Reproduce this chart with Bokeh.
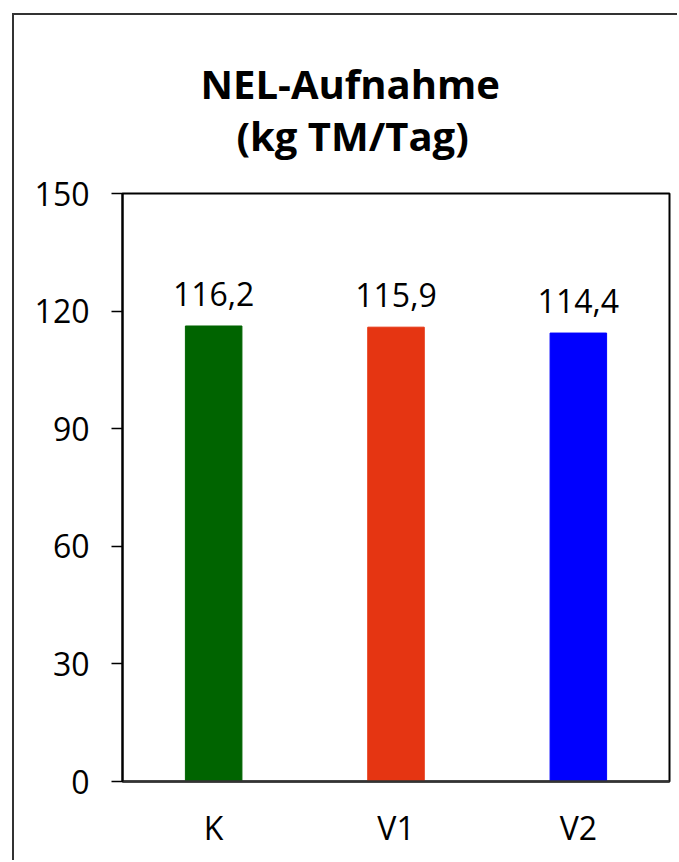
from bokeh.plotting import figure
from bokeh.models import ColumnDataSource, LabelSet, Range1d, FixedTicker, Title
from bokeh.core.properties import value
from bokeh.embed import file_html
from bokeh.resources import INLINE

categories = ["K", "V1", "V2"]
values = [116.2, 115.9, 114.4]
value_labels = ["116,2", "115,9", "114,4"]
colors = ["#006400", "#E53512", "#0000FF"]
y_ticks = [0, 30, 60, 90, 120, 150]
title_lines = ["NEL-Aufnahme", "(kg TM/Tag)"]

FONT = "Open Sans"

source = ColumnDataSource(dict(cat=categories, val=values, lab=value_labels, col=colors))

p = figure(
    x_range=categories, y_range=Range1d(0, 150),
    width=665, height=847,
    output_backend="svg", toolbar_location=None,
    min_border_left=108, min_border_right=10, min_border_top=178, min_border_bottom=81,
    background_fill_color="white", border_fill_color="white",
    styles={"border-left": "2px solid #333", "border-top": "2px solid #333",
            "margin-left": "12px", "margin-top": "13px"},
)

# outer (first) line
p.title = Title(text=title_lines[0], align="left", offset=78,
                text_font=FONT, text_font_size="40px", text_font_style="bold",
                text_color="black", standoff=-73)
# inner (second) line, nearest to the plot frame
p.add_layout(Title(text=title_lines[1], align="left", offset=114,
                   text_font=FONT, text_font_size="40px", text_font_style="bold",
                   text_color="black", standoff=62), "above")

p.vbar(x="cat", top="val", width=0.31, color="col", source=source)

labels = LabelSet(x="cat", y="val", text="lab", source=source,
                  text_align="center", text_baseline="alphabetic", y_offset=20,
                  text_font=value(FONT), text_font_size=value("32px"), text_color="black")
p.add_layout(labels)

p.xgrid.visible = False
p.ygrid.visible = False
p.outline_line_color = "black"
p.outline_line_width = 2
p.outline_line_alpha = 1

p.yaxis.ticker = FixedTicker(ticks=y_ticks)
p.yaxis.minor_tick_line_color = None
p.yaxis.major_tick_in = 0
p.yaxis.major_tick_out = 11
p.yaxis.major_tick_line_color = "black"
p.yaxis.major_tick_line_width = 1.5
p.yaxis.axis_line_color = "black"
p.yaxis.axis_line_width = 2
p.yaxis.major_label_text_font = FONT
p.yaxis.major_label_text_font_size = "32px"
p.yaxis.major_label_text_color = "black"
p.yaxis.major_label_standoff = 22

p.xaxis.major_tick_line_color = None
p.xaxis.minor_tick_line_color = None
p.xaxis.axis_line_color = "#333333"
p.xaxis.axis_line_width = 2.5
p.xaxis.major_label_text_font = FONT
p.xaxis.major_label_text_font_size = "32px"
p.xaxis.major_label_text_color = "black"
p.xaxis.major_label_standoff = 18

open("out.html", "w").write(file_html(p, INLINE))
